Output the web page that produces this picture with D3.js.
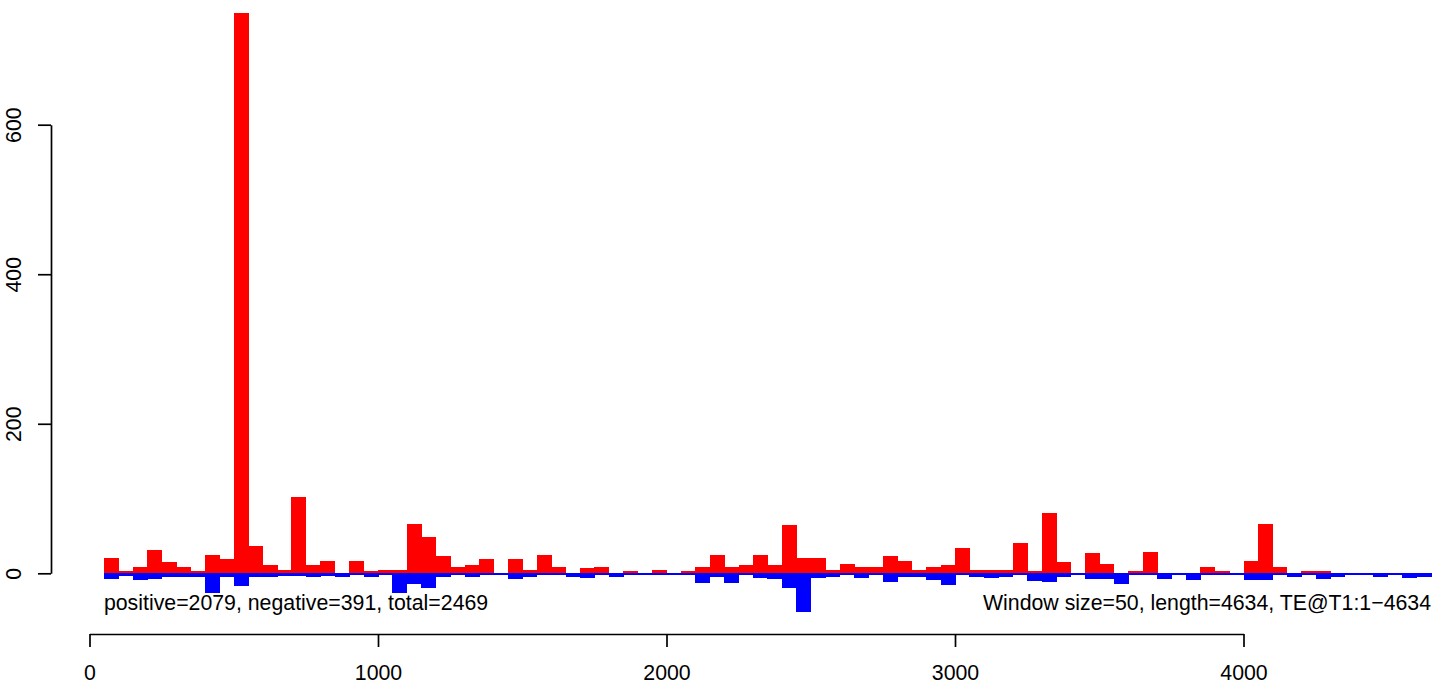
<!DOCTYPE html>
<html><head><meta charset="utf-8">
<script src="https://cdn.jsdelivr.net/npm/d3@7"></script>
<style>
body{margin:0;background:#fff}
svg{display:block}
text{font-family:"Liberation Sans",Arial,Helvetica,sans-serif}
</style>
</head><body>
<svg id="chart" width="1436" height="685"></svg>
<script>
const windowSize = 50;
const windowStarts = [
  50,100,150,200,250,300,350,400,450,500,550,600,650,700,750,
  800,850,900,950,1000,1050,1100,1150,1200,1250,1300,1350,1400,1450,1500,1550,
  1600,1650,1700,1750,1800,1850,1900,1950,2000,2050,2100,2150,2200,2250,2300,2350,
  2400,2450,2500,2550,2600,2650,2700,2750,2800,2850,2900,2950,3000,3050,3100,3150,
  3200,3250,3300,3350,3400,3450,3500,3550,3600,3650,3700,3750,3800,3850,3900,3950,
  4000,4050,4100,4150,4200,4250,4300,4350,4400,4450,4500,4550,4600
];
const positiveCounts = [
  21,3,8,31,15,9,3,24,19,749,36,11,4,102,11,
  16,1,16,3,5,4,66,48,23,8,11,19,1,19,4,25,
  9,1,7,8,1,3,0,5,1,3,8,24,9,11,25,11,
  65,21,20,4,13,9,8,23,17,4,8,11,34,5,5,5,
  40,3,80,15,1,27,12,1,3,28,1,1,1,9,3,1,
  16,66,8,1,3,3,1,0,0,0,0,0,0
];
const negativeCounts = [
  5,1,6,5,2,3,3,24,2,14,3,2,1,1,2,
  1,3,0,3,0,24,12,17,3,0,3,0,0,5,3,0,
  0,3,4,0,3,0,0,0,0,0,11,3,11,0,4,5,
  17,50,4,3,0,4,0,9,3,3,7,13,0,3,4,3,
  0,8,9,2,0,5,5,12,0,0,5,0,6,0,0,0,
  7,7,0,2,0,5,2,0,0,2,0,4,2
];
const xTicks = [0,1000,2000,3000,4000];
const yTicks = [0,200,400,600];
const leftNote = "positive=2079, negative=391, total=2469";
const rightNote = "Window size=50, length=4634, TE@T1:1\u22124634";

const svg = d3.select("#chart");
svg.append("rect").attr("width",1436).attr("height",685).attr("fill","#fff");

const x = d3.scaleLinear().domain([0,4000]).range([89.5,1243.5]);
const y = d3.scaleLinear().domain([0,600]).range([573.3,124.7]);

const data = windowStarts.map((s,i)=>({s, pos:positiveCounts[i], neg:negativeCounts[i]}));

// positive bars
svg.append("g").attr("shape-rendering","crispEdges")
  .selectAll("rect").data(data).join("rect")
  .attr("x", d=>x(d.s))
  .attr("width", d=>x(d.s+windowSize)-x(d.s)+0.6)
  .attr("y", d=>y(d.pos))
  .attr("height", d=>y(0)-y(d.pos))
  .attr("fill","#ff0000");

// negative bars
svg.append("g").attr("shape-rendering","crispEdges")
  .selectAll("rect").data(data).join("rect")
  .attr("x", d=>x(d.s))
  .attr("width", d=>x(d.s+windowSize)-x(d.s)+0.6)
  .attr("y", y(0))
  .attr("height", d=>y(-d.neg)-y(0) + 1.8)
  .attr("fill","#0000ff");

// y axis
const yAxis = svg.append("g").attr("transform","translate(51,0)")
  .call(d3.axisLeft(y).tickValues(yTicks).tickSize(13).tickSizeOuter(0).tickFormat(d3.format("d")));
yAxis.selectAll("path,line").attr("stroke","#000").attr("stroke-width",1.7);
yAxis.selectAll("text")
  .attr("transform","rotate(-90)")
  .attr("x",0).attr("y",-30).attr("dy",0)
  .attr("text-anchor","middle")
  .attr("font-size",21.3).attr("fill","#000")
  .attr("font-family","Liberation Sans, Arial, sans-serif");

// x axis
const xAxis = svg.append("g").attr("transform","translate(0,634)")
  .call(d3.axisBottom(x).tickValues(xTicks).tickSize(13).tickSizeOuter(0).tickFormat(d3.format("d")));
xAxis.selectAll("path,line").attr("stroke","#000").attr("stroke-width",1.7);
xAxis.selectAll("text")
  .attr("y",46).attr("dy",0)
  .attr("font-size",21.3).attr("fill","#000")
  .attr("font-family","Liberation Sans, Arial, sans-serif");

// notes
svg.append("text").attr("x", x(windowStarts[0])).attr("y",610)
  .attr("font-size",21.3).attr("fill","#000").text(leftNote);
svg.append("text").attr("x", x(windowStarts[windowStarts.length-1]+windowSize)).attr("y",610)
  .attr("text-anchor","end")
  .attr("font-size",21.3).attr("fill","#000").text(rightNote);
</script>
</body></html>
